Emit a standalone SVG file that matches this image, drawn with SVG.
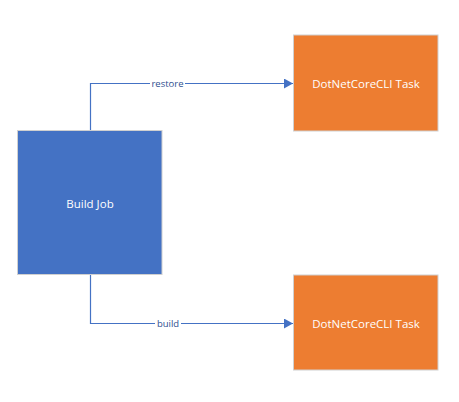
<svg xmlns="http://www.w3.org/2000/svg" width="459" height="402" viewBox="0 0 459 402">
<defs>
<style>
.box{stroke:#D0D0D0;stroke-width:1}
.job{fill:#4472C4}
.task{fill:#ED7D31}
.t{font-family:"Open Sans","Noto Sans",sans-serif;font-size:11.5px;fill:#FFFFFF;text-anchor:middle;dominant-baseline:central}
.edge{fill:none;stroke:#4472C4;stroke-width:1.2}
.lbl{font-family:"Open Sans","Noto Sans",sans-serif;font-size:9.5px;fill:#2F4F8F;text-anchor:middle;dominant-baseline:central}
.lblbg{fill:#FFFFFF}
</style>
<marker id="arr" markerWidth="10" markerHeight="10" refX="9" refY="5" orient="auto" markerUnits="userSpaceOnUse">
<path d="M0,0 L9,5 L0,10 Z" fill="#4472C4"/>
</marker>
</defs>
<rect width="459" height="402" fill="#FFFFFF"/>
<g id="connectors">
<path class="edge" d="M90.5,131 V83.5 H293" marker-end="url(#arr)"/>
<rect class="lblbg" x="150" y="78" width="35" height="11"/>
<text class="lbl" x="167.5" y="83">restore</text>
<path class="edge" d="M90.5,274 V323.5 H293" marker-end="url(#arr)"/>
<rect class="lblbg" x="155" y="318" width="26" height="11"/>
<text class="lbl" x="168" y="323">build</text>
</g>
<g id="build-job">
<rect class="box job" x="17.5" y="130.5" width="144.5" height="144"/>
<text class="t" x="90" y="203">Build Job</text>
</g>
<g id="task-restore">
<rect class="box task" x="293.5" y="35" width="144.5" height="96"/>
<text class="t" x="366" y="83">DotNetCoreCLI Task</text>
</g>
<g id="task-build">
<rect class="box task" x="293.5" y="275" width="144.5" height="95"/>
<text class="t" x="366" y="323">DotNetCoreCLI Task</text>
</g>
</svg>
